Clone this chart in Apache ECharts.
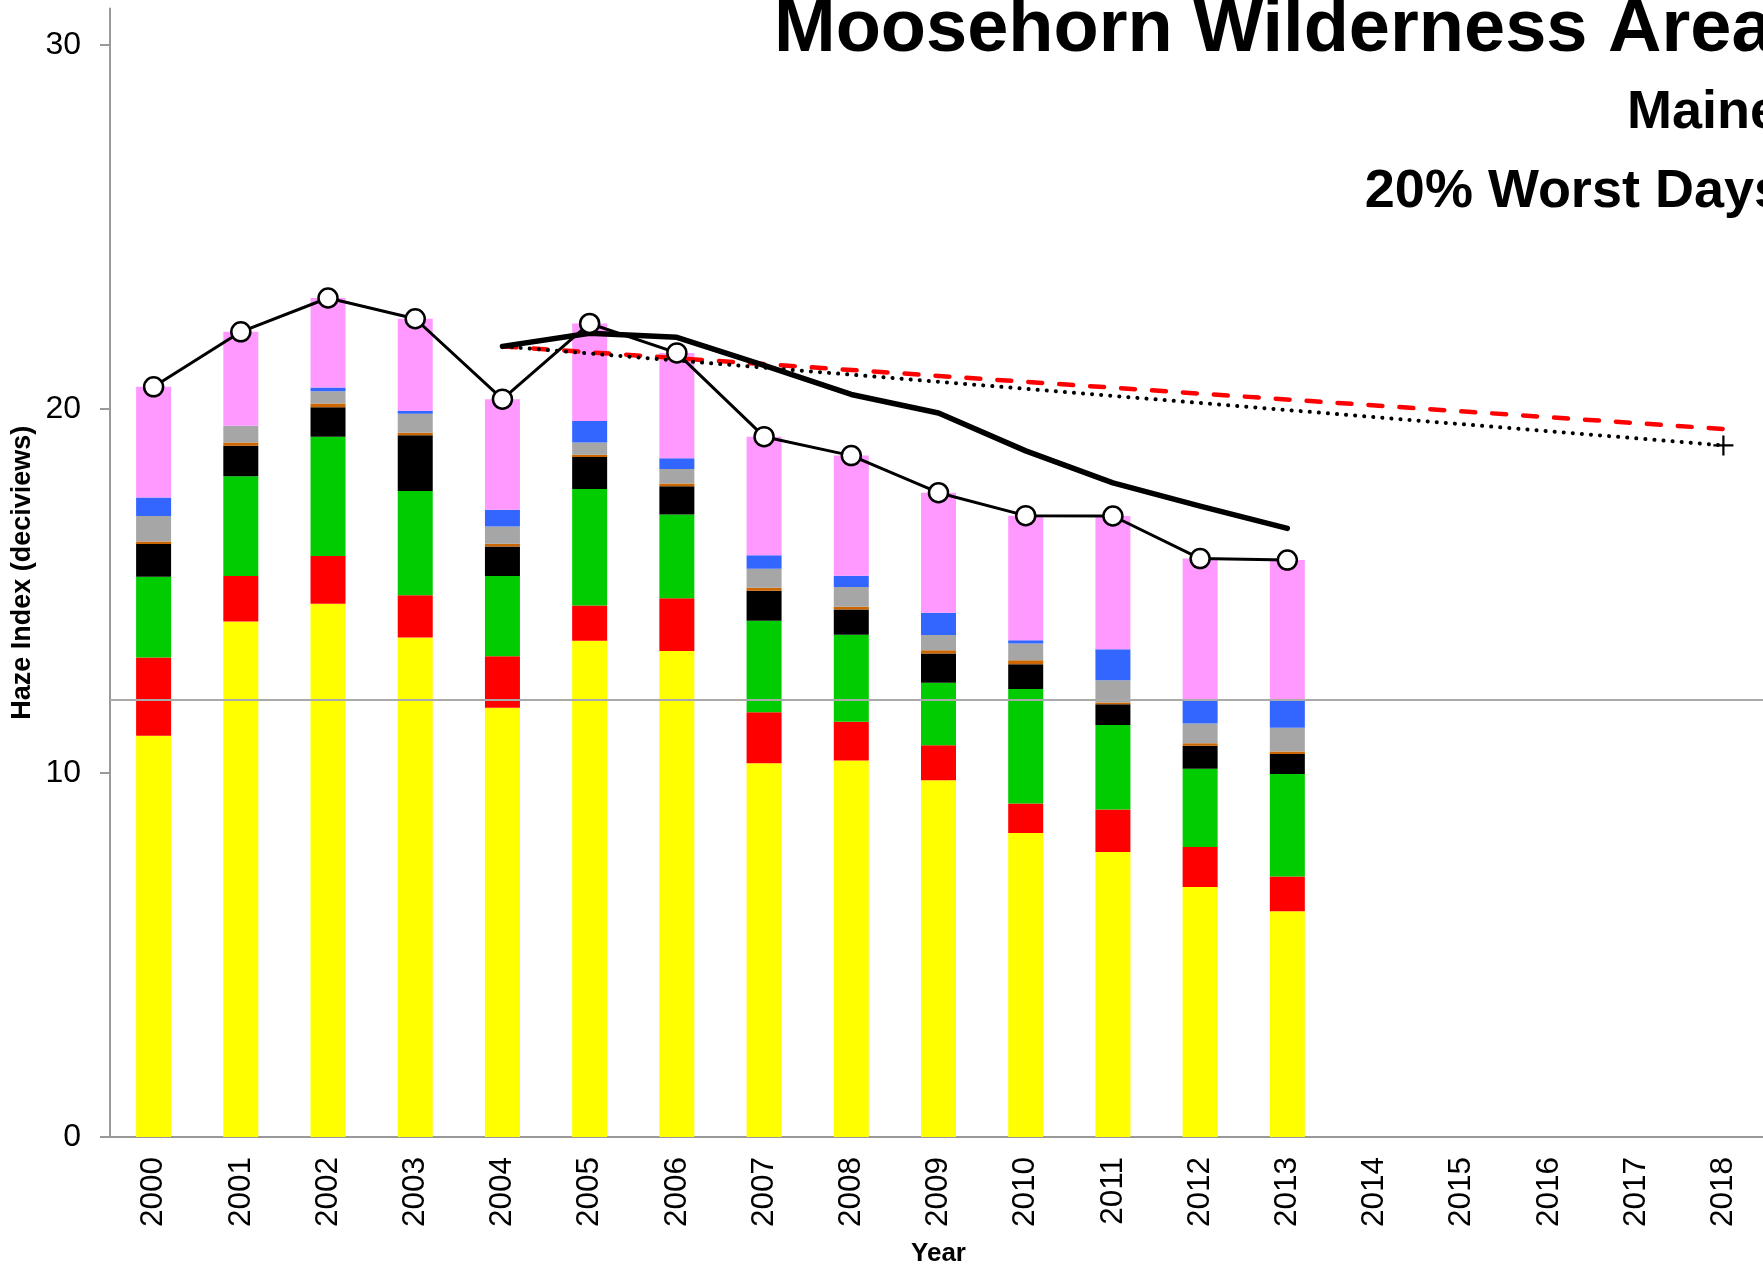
<!DOCTYPE html>
<html><head><meta charset="utf-8">
<script src="https://cdn.jsdelivr.net/npm/echarts@6/dist/echarts.min.js"></script>
<style>html,body{margin:0;padding:0;background:#fff}#c{width:1763px;height:1266px}</style>
</head><body><div id="c"></div>
<script>
// Categories
const years = ['2000','2001','2002','2003','2004','2005','2006','2007','2008','2009','2010','2011','2012','2013','2014','2015','2016','2017','2018'];
const yTicks = [0, 10, 20, 30];

// Stacked components (deciviews), bottom to top
const sulfate   = [11.02, 14.16, 14.65, 13.72, 11.79, 13.63, 13.35, 10.27, 10.34, 9.80, 8.35, 7.83, 6.87, 6.20];
const nitrate   = [2.15, 1.25, 1.31, 1.16, 1.42, 0.97, 1.45, 1.40, 1.07, 0.96, 0.81, 1.17, 1.10, 0.96];
const organic   = [2.22, 2.74, 3.28, 2.87, 2.20, 3.20, 2.30, 2.51, 2.39, 1.72, 3.15, 2.32, 2.15, 2.81];
const elemental = [0.90, 0.84, 0.81, 1.53, 0.81, 0.88, 0.78, 0.83, 0.69, 0.80, 0.68, 0.57, 0.63, 0.55];
const soil      = [0.07, 0.09, 0.10, 0.07, 0.08, 0.06, 0.07, 0.08, 0.08, 0.09, 0.11, 0.05, 0.07, 0.07];
const coarse    = [0.70, 0.46, 0.34, 0.52, 0.47, 0.34, 0.40, 0.52, 0.54, 0.42, 0.46, 0.61, 0.54, 0.65];
const seaSalt   = [0.51, 0.00, 0.10, 0.08, 0.46, 0.59, 0.30, 0.37, 0.31, 0.61, 0.09, 0.85, 0.65, 0.77];
const rayleigh  = [3.04, 2.58, 2.46, 2.53, 3.04, 2.68, 2.89, 3.26, 3.30, 3.30, 3.42, 3.66, 3.88, 3.84];

// Lines
const observed  = [20.61, 22.12, 23.05, 22.48, 20.27, 22.35, 21.54, 19.24, 18.72, 17.70, 17.07, 17.06, 15.89, 15.85];
const fiveYearAvg = [null, null, null, null, 21.72, 22.08, 21.97, 21.20, 20.40, 19.89, 18.85, 17.97, 17.33, 16.72];
const glidePath = [null, null, null, null, 21.72, null, null, null, null, null, null, null, null, null, null, null, null, null, 19.45];
const trendPath = [null, null, null, null, 21.72, null, null, null, null, null, null, null, null, null, null, null, null, null, 19.00];
const naturalLevel = 12.0;

const FONT = 'Liberation Sans';
const plusPath = 'path://M8,0H10V8H18V10H10V18H8V10H0V8H8Z';

function barSeries(name, data, color, extra) {
  return Object.assign({
    name, type: 'bar', stack: 'haze', data, barWidth: 35,
    itemStyle: { color }, emphasis: { disabled: true }, animation: false
  }, extra || {});
}

const chart = echarts.init(document.getElementById('c'), null, { renderer: 'canvas' });
chart.setOption({
  animation: false,
  backgroundColor: '#fff',
  title: [
    { text: 'Moosehorn Wilderness Area', left: 774, top: -6, padding: 0,
      textStyle: { fontSize: 74, fontWeight: 'bold', fontFamily: FONT, color: '#000' } },
    { text: 'Maine', right: -17, top: 86, padding: 0,
      textStyle: { fontSize: 54, fontWeight: 'bold', fontFamily: FONT, color: '#000' } },
    { text: '20% Worst Days', right: -21, top: 165, padding: 0,
      textStyle: { fontSize: 54, fontWeight: 'bold', fontFamily: FONT, color: '#000' } }
  ],
  grid: { left: 110, width: 1657, top: 8.6, bottom: 129, containLabel: false, outerBoundsMode: 'none' },
  xAxis: {
    type: 'category', data: years, boundaryGap: true,
    name: 'Year', nameLocation: 'middle', nameGap: 104, nameMoveOverlap: false,
    nameTextStyle: { fontSize: 26, fontWeight: 'bold', fontFamily: FONT, color: '#000' },
    axisLine: { lineStyle: { color: '#999', width: 2 } },
    axisTick: { show: false },
    axisLabel: { rotate: 90, fontSize: 31.5, fontFamily: FONT, color: '#000', margin: 20, interval: 0 }
  },
  yAxis: {
    type: 'value', min: 0, max: 31, interval: 10,
    name: 'Haze Index (deciviews)', nameLocation: 'middle', nameGap: 74, nameRotate: 90, nameMoveOverlap: false,
    nameTextStyle: { fontSize: 27, fontWeight: 'bold', fontFamily: FONT, color: '#000' },
    splitLine: { show: false },
    axisLine: { show: true, lineStyle: { color: '#999', width: 2 } },
    axisTick: { show: true, length: 10, lineStyle: { color: '#999', width: 2 }, customValues: yTicks },
    axisLabel: { fontSize: 32, fontFamily: FONT, color: '#000', margin: 29, customValues: yTicks }
  },
  series: [
    barSeries('Sulfate', sulfate, '#FFFF00', {
      markLine: { silent: true, symbol: 'none', animation: false,
        label: { show: false },
        lineStyle: { color: '#aaaaaa', width: 2, type: 'solid' },
        data: [{ yAxis: naturalLevel }] }
    }),
    barSeries('Nitrate', nitrate, '#FF0000'),
    barSeries('Organic Carbon', organic, '#00CC00'),
    barSeries('Elemental Carbon', elemental, '#000000'),
    barSeries('Soil', soil, '#CC6600'),
    barSeries('Coarse Mass', coarse, '#A6A6A6'),
    barSeries('Sea Salt', seaSalt, '#3366FF'),
    barSeries('Rayleigh', rayleigh, '#FF99FF'),
    { name: 'Glide Path', type: 'line', data: glidePath, connectNulls: true, symbol: 'none',
      lineStyle: { color: '#FF0000', width: 4.5, type: [14, 17], cap: 'round' }, z: 3 },
    { name: 'Trend', type: 'line', data: trendPath.map((v, i) => i === 18 ? { value: v, symbol: plusPath, symbolSize: 20 } : v),
      connectNulls: true, symbol: 'none', showSymbol: true,
      itemStyle: { color: '#000' },
      lineStyle: { color: '#000', width: 4, type: [0.1, 9], cap: 'round' }, z: 3 },
    { name: '5-yr Average', type: 'line', data: fiveYearAvg, symbol: 'none',
      lineStyle: { color: '#000', width: 5.5, cap: 'round', join: 'round' }, z: 4 },
    { name: 'Observed', type: 'line', data: observed, symbol: 'circle', symbolSize: 19,
      itemStyle: { color: '#fff', borderColor: '#000', borderWidth: 2.5 },
      lineStyle: { color: '#000', width: 3 }, z: 5 }
  ]
});
</script></body></html>
